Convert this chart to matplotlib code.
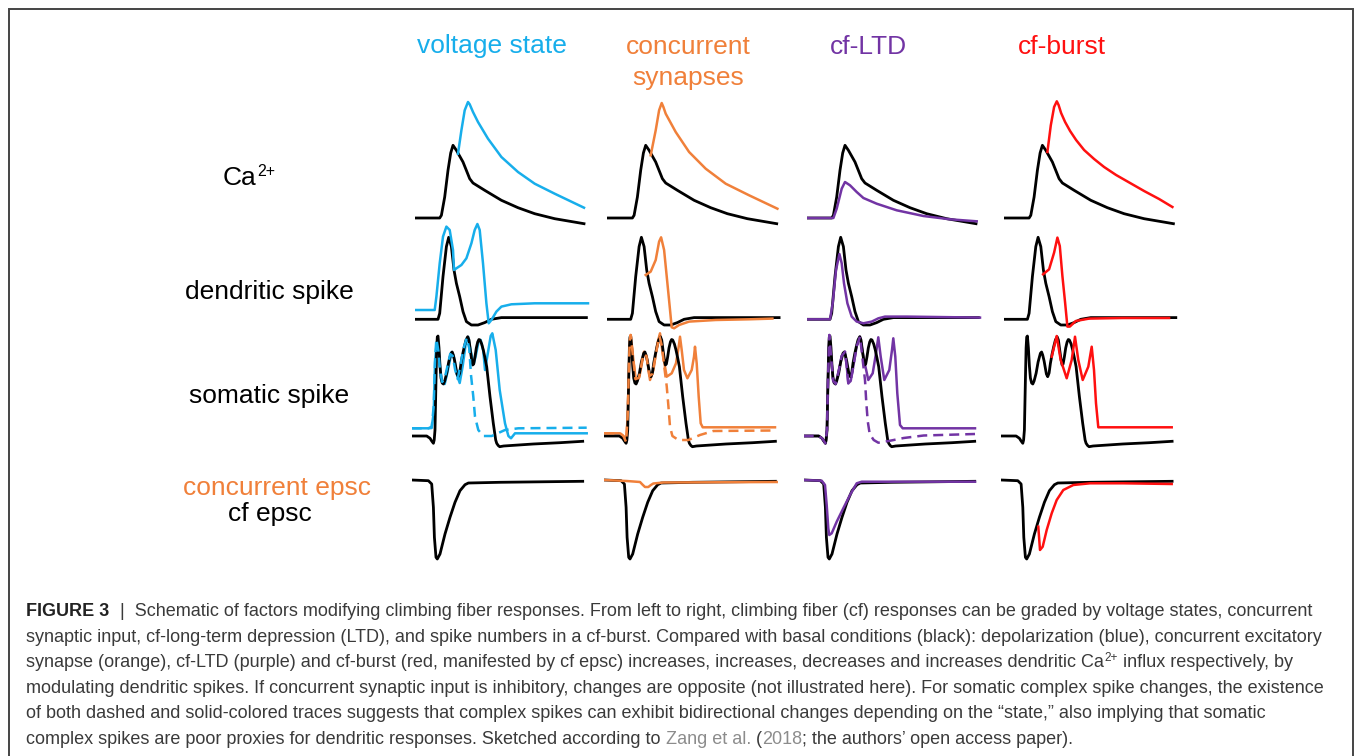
#import necessary libraries
import matplotlib.pyplot as plt

#fonts: helvetica-like text
plt.rcParams['font.family'] = ['Liberation Sans', 'DejaVu Sans']

#colours of the four conditions
blue = '#17AEEB'
orange = '#F0803A'
purple = '#7234A4'
red = '#FF1010'

#column titles and row labels
col_titles = ['voltage state', 'concurrent\nsynapses', 'cf-LTD', 'cf-burst']
col_colors = [blue, orange, purple, red]
row_labels = ['Ca', 'dendritic spike', 'somatic spike', 'cf epsc']

#traces: t = time (px from trace start), v = amplitude (px above baseline)
#Ca2+ row
ca_black_t = [0, 25, 26.7, 30, 33.3, 36, 38.3, 41.7, 48.3, 55, 58.3, 70, 86.7, 103.3, 120, 140, 169.3]
ca_black_v = [0, 0, 2.7, 21, 47.7, 65, 72.7, 67.7, 56, 39.3, 35, 27.7, 17.7, 10.3, 4.3, -0.7, -5.7]
ca_blue_t = [43.3, 46.7, 50, 53.3, 55, 58.3, 63.3, 73.3, 86.7, 103.3, 120, 140, 169.3]
ca_blue_v = [64.3, 87.7, 107.7, 116, 113.7, 106, 96, 79.3, 61, 46, 34.3, 24.3, 10.3]
ca_orange_t = [43.3, 48.3, 51.7, 54.3, 56, 58.3, 68.3, 81.7, 98.3, 118.3, 141.7, 170]
ca_orange_v = [62.7, 87.7, 107.7, 115, 111, 104.3, 86, 66, 49.3, 34.3, 22.7, 9.3]
ca_purple_t = [0, 26.7, 30, 35, 38.3, 43.3, 50, 56.7, 70, 90, 116.7, 143.3, 170]
ca_purple_v = [0, 0, 9.3, 29.3, 36, 32.7, 26, 20, 14.3, 7.7, 2, -1.3, -3.3]
ca_red_t = [43.3, 46.7, 50, 52.7, 54.5, 57, 61, 66, 72, 80, 90, 100, 112, 126, 140, 155, 168.3]
ca_red_v = [66, 92.7, 111, 116.7, 113, 105, 96, 87, 78, 68, 59, 51, 43, 35, 27, 19, 11]

#dendritic spike row
dend_black_t = [0, 23.3, 25, 28.3, 31.7, 34, 36.7, 39.3, 41.7, 45, 48.3, 51.7, 56.7, 63.3, 70, 76.7, 86.7, 120, 171.7]
dend_black_v = [0, 0, 6, 42.7, 72.7, 82, 72.7, 49.3, 36, 22.7, 7.7, -2.3, -5.7, -5.7, -3.3, 0, 1.7, 1.7, 1.7]
dend_blue_t = [0, 20, 21.7, 25, 28.3, 31.7, 35, 38.3, 39.3, 41.7, 46.7, 51.7, 56.7, 60, 62.7, 65, 68.3,
               71.7, 74, 76.7, 81.7, 86.7, 96.7, 120, 173.3]
dend_blue_v = [9.3, 9.3, 22.7, 56, 82.7, 92.7, 89.3, 69.3, 49.3, 51, 54.3, 61, 76, 89.3, 95.3, 89.3, 56,
               16, -4, -0.7, 7.7, 12.7, 15, 16, 16]
dend_orange_t = [38.3, 43.3, 48.3, 51.7, 53.7, 56.7, 60, 62.3, 64.3, 66.7, 71.7, 81.7, 108.3, 141.7, 165]
dend_orange_v = [44.3, 47.7, 59.3, 77.7, 82, 69.3, 36, 12.7, -8, -9, -5.7, -2.3, -0.7, 0, 0.7]
dend_purple_t = [0, 23.3, 26, 29.3, 32.7, 35, 37.3, 40.7, 45, 50, 56.7, 65, 71.7, 78.3, 100, 173.3]
dend_purple_v = [0, 0, 16, 49.3, 65.3, 56, 36, 16, 2.7, -2.3, -4, -2.3, 1, 2.7, 2.7, 1.7]
dend_red_t = [39, 45, 50, 53.3, 55.7, 58.3, 61, 63.3, 65.7, 71.7, 85, 118.3, 165]
dend_red_v = [45, 50, 66.7, 81.7, 73.3, 43.3, 16.7, -7.3, -7.3, -1.7, 0.7, 1.3, 1.3]

#somatic spike row
soma_black_t = [0, 15, 18.3, 20, 21.7, 22.5, 23.3, 24.3, 25, 25.6, 26.3, 27.3, 28.3, 29.3, 30.5, 31.7, 33,
                35, 37, 39.3, 40.5, 41.6, 43, 44, 45.3, 46.6, 48, 49.3, 51, 52.6, 54.3, 56, 57.3, 58.6,
                60, 61, 62, 63.3, 64.6, 66, 67.2, 68.3, 70, 71.6, 73.3, 75, 78.3, 81.6, 84, 85, 86.5,
                88, 92, 121.6, 148.3, 171]
soma_black_v = [0, 0, -2.3, -5, -7.3, -4, 6, 56, 88, 99, 100, 88, 70, 58, 53, 52, 55,
                62.7, 74, 82.7, 84, 81, 75, 69.3, 62, 59.3, 63, 72.7, 82, 89.3, 96, 99.3, 96, 86,
                76, 71, 72, 79.3, 88, 94, 96.5, 96, 92, 86, 78, 69.3, 39.3, 12.7, -4, -7.3, -9.5,
                -10.7, -10, -8, -6.7, -5.3]
soma_blue_t = [0, 16.7, 20, 22, 23.3, 25, 26.7, 28.3, 30, 33, 36, 40, 42, 45, 48, 51, 54, 56.5, 59, 62,
               64, 67, 69, 71.6, 73.3, 76.5, 79, 80.6, 84, 88, 93.3, 96.7, 99.3, 103.3, 110, 175]
soma_blue_v = [7.7, 7.7, 9.3, 23, 73, 94, 90, 70, 55, 52, 65, 84, 80, 62, 53, 70, 92, 99, 85, 72,
               80, 95, 96, 85, 66, 85, 100, 102.7, 86, 46, 12.7, 0, -2.3, 2.7, 2.7, 2.7]
soma_blue_dash_t = [0, 16.7, 20, 22, 23.5, 24.7, 26.7, 28.3, 30.5, 34, 38.5, 41, 43.5, 46, 48.5, 52, 55,
                    57.5, 59.3, 61.6, 63.3, 66.6, 71.6, 80, 93.3, 106.6, 175]
soma_blue_dash_v = [7.7, 7.7, 8, 30, 80, 97, 85, 65, 54, 62, 82, 80, 66, 57, 70, 88, 98,
                    88, 61, 39.3, 19.3, 6, 0, 0, 6, 7.7, 8.3]
soma_orange_t = [0, 15.6, 19, 21.7, 23.3, 24.3, 25.3, 26.3, 29, 31.6, 35, 39.6, 42.3, 45.6, 49, 53, 55.6,
                 58.3, 62.3, 67.3, 71.6, 74.3, 75.6, 77.3, 79.6, 83, 87.3, 89.6, 90.6, 92.3, 94.3, 96.3,
                 98.3, 170.6]
soma_orange_v = [2.7, 2.7, 0, -6, 20, 60, 95, 101, 76, 54.3, 59.3, 84.3, 79.3, 56, 66, 92.7, 102.7,
                 82.7, 59.3, 62.7, 72.7, 89.3, 99.3, 86, 66, 57.7, 66, 79.3, 89.3, 72.7, 39.3, 12.7,
                 8.7, 8.7]
soma_orange_dash_t = [0, 15.6, 19, 21.7, 23.3, 24.3, 25.3, 26.3, 28.5, 31, 34.5, 39, 42, 45, 48, 52, 55,
                      57.5, 60, 62.3, 64, 65.6, 68, 74, 84, 95.6, 108.9, 170.6]
soma_orange_dash_v = [2.7, 2.7, 0, -6, 20, 60, 95, 101, 80, 57, 58, 82, 80, 60, 62, 85, 100,
                      90, 68, 50, 30, 9.3, 0, -4, -4, 1, 5, 5.5]
soma_purple_t = [0, 15, 18.3, 21.7, 23.3, 24.3, 25.6, 27.5, 29.5, 32, 35, 38, 41.3, 43, 44.6, 47, 50, 53,
                 56.3, 60.3, 64.6, 69, 72.3, 74.6, 77, 80.6, 85.6, 88.3, 89.6, 91.6, 93.6, 96.3, 99, 171.3]
soma_purple_v = [0, 0, -2.3, -7.3, 6, 56, 101, 78, 55, 52, 65, 80, 84.3, 70, 52.7, 55, 72, 90,
                 99.3, 76, 56, 62.7, 82.7, 98.7, 79.3, 56, 66, 86, 97.7, 79.3, 42.7, 11, 7.7, 7.7]
soma_purple_dash_t = [0, 15, 18.3, 21.7, 23.3, 24.3, 25.6, 27.5, 29.5, 32, 35, 38, 41.3, 43, 44.6, 47, 50,
                      53, 56.3, 58.5, 61.3, 62.5, 64, 66, 70, 74.6, 85, 100, 120, 171.3]
soma_purple_dash_v = [0, 0, -2.3, -7.3, 6, 56, 101, 78, 55, 52, 65, 80, 84.3, 70, 52.7, 55, 72,
                      90, 99.3, 80, 56, 35, 15, 2, -4, -6.7, -5, -2, 0.5, 2]
soma_red_t = [50.6, 55.6, 59.6, 65.6, 70.6, 73.9, 77.2, 81.6, 87.2, 90.6, 92.9, 94.9, 97.2, 170.6]
soma_red_v = [79.3, 100, 76, 57.7, 76, 99.3, 76, 56, 69.3, 89.3, 66, 32.7, 8.7, 8.7]

#epsc row
epsc_black_t = [0, 16.7, 20, 21.7, 22.7, 24.3, 25.6, 28.3, 33.3, 38.3, 43.3, 48.3, 53.3, 56.7, 88.3, 171]
epsc_black_v = [0, -0.7, -4, -27.3, -57.3, -77.3, -79, -74, -54, -37.3, -22.3, -10.7, -4.7, -3, -2.3, -1.3]
epsc_orange_t = [0, 22.3, 35.6, 38, 40.6, 43.9, 46.5, 48.9, 58.9, 172.3]
epsc_orange_v = [0, -1, -2, -4.5, -7, -7, -5, -3.5, -2.5, -2]
epsc_purple_t = [0, 18, 21.3, 23, 24.6, 25.6, 28, 33, 39.6, 46.3, 53, 58, 171.3]
epsc_purple_v = [0, -0.7, -5, -25, -48.3, -55, -53.3, -41.7, -28.3, -15, -3.3, -1.7, -1.7]
epsc_red_t = [37.2, 38.9, 41.6, 45.6, 50.6, 55.6, 62.2, 72.2, 88.9, 122.2, 170.6]
epsc_red_v = [-46.7, -70, -66.7, -50, -33.3, -20, -10, -5, -3.3, -3.3, -4]

#caption lines: pieces of (text, colour, weight, superscript?)
txt = '#3a3a3a'
link = '#8c8c8c'
caption_lines = [
    [('FIGURE 3', '#222222', 'bold', False),
     ('  |  Schematic of factors modifying climbing fiber responses. From left to right, climbing fiber (cf) '
      'responses can be graded by voltage states, concurrent', txt, 'normal', False)],
    [('synaptic input, cf-long-term depression (LTD), and spike numbers in a cf-burst. Compared with basal '
      'conditions (black): depolarization (blue), concurrent excitatory', txt, 'normal', False)],
    [('synapse (orange), cf-LTD (purple) and cf-burst (red, manifested by cf epsc) increases, increases, '
      'decreases and increases dendritic Ca', txt, 'normal', False),
     ('2+', txt, 'normal', True),
     (' influx respectively, by', txt, 'normal', False)],
    [('modulating dendritic spikes. If concurrent synaptic input is inhibitory, changes are opposite (not '
      'illustrated here). For somatic complex spike changes, the existence', txt, 'normal', False)],
    [('of both dashed and solid-colored traces suggests that complex spikes can exhibit bidirectional '
      'changes depending on the \u201cstate,\u201d also implying that somatic', txt, 'normal', False)],
    [('complex spikes are poor proxies for dendritic responses. Sketched according to ', txt, 'normal', False),
     ('Zang et al.', link, 'normal', False), (' (', txt, 'normal', False), ('2018', link, 'normal', False),
     ('; the authors\u2019 open access paper).', txt, 'normal', False)],
]

#layout (pixels)
W, H = 1355, 756
col_x = [411.7, 604.4, 803.7, 1001.1]
row_dx = [3, 3, 0, 0]
row_base = [218, 319.3, 436, 480]
row_span = [(15, 125), (20, 110), (20, 115), (90, 15)]
lw = 1.8
dash = (0, (4, 2.4))

#determine the size of figure
fig = plt.figure(figsize=(W / 100, H / 100), dpi=100)
fig.patch.set_facecolor('white')

#background axes in pixel units for the frame and the text
bg = fig.add_axes([0, 0, 1, 1])
bg.set_xlim(0, W)
bg.set_ylim(H, 0)
bg.axis('off')


def panel(row, col):
    #one small axes per trace panel, 1 data unit = 1 pixel
    x0 = col_x[col] + row_dx[row]
    lo, hi = row_span[row]
    ax = fig.add_axes([x0 / W, (H - row_base[row] - lo) / H, 180 / W, (lo + hi) / H])
    ax.set_xlim(0, 180)
    ax.set_ylim(-lo, hi)
    ax.axis('off')
    ax.patch.set_alpha(0)
    return ax


#Ca2+ row
ca_colored = [(ca_blue_t, ca_blue_v), (ca_orange_t, ca_orange_v), (ca_purple_t, ca_purple_v), (ca_red_t, ca_red_v)]
for c in range(4):
    ax = panel(0, c)
    ax.plot(ca_black_t, ca_black_v, color='black', lw=lw + 0.2)
    ax.plot(ca_colored[c][0], ca_colored[c][1], color=col_colors[c], lw=lw)

#dendritic spike row
dend_colored = [(dend_blue_t, dend_blue_v), (dend_orange_t, dend_orange_v),
                (dend_purple_t, dend_purple_v), (dend_red_t, dend_red_v)]
for c in range(4):
    ax = panel(1, c)
    ax.plot(dend_black_t, dend_black_v, color='black', lw=lw + 0.2)
    ax.plot(dend_colored[c][0], dend_colored[c][1], color=col_colors[c], lw=lw)

#somatic spike row: solid coloured under black, dashed on top
soma_solid = [(soma_blue_t, soma_blue_v), (soma_orange_t, soma_orange_v), (soma_purple_t, soma_purple_v)]
soma_dashed = [(soma_blue_dash_t, soma_blue_dash_v), (soma_orange_dash_t, soma_orange_dash_v),
               (soma_purple_dash_t, soma_purple_dash_v)]
for c in range(4):
    ax = panel(2, c)
    if c < 3:
        ax.plot(soma_solid[c][0], soma_solid[c][1], color=col_colors[c], lw=lw)
        ax.plot(soma_black_t, soma_black_v, color='black', lw=lw + 0.2)
        ax.plot(soma_dashed[c][0], soma_dashed[c][1], color=col_colors[c], lw=lw, linestyle=dash)
    else:
        ax.plot(soma_black_t, soma_black_v, color='black', lw=lw + 0.2)
        ax.plot(soma_red_t, soma_red_v, color=red, lw=lw)

#epsc row
epsc_colored = [None, (epsc_orange_t, epsc_orange_v), (epsc_purple_t, epsc_purple_v), (epsc_red_t, epsc_red_v)]
for c in range(4):
    ax = panel(3, c)
    ax.plot(epsc_black_t, epsc_black_v, color='black', lw=lw + 0.2)
    if epsc_colored[c] is not None:
        ax.plot(epsc_colored[c][0], epsc_colored[c][1], color=col_colors[c], lw=lw)

#frame round the figure (bottom edge is cut off in the original)
bg.plot([9, 9, 1353, 1353], [H, 9, 9, H], color='#444444', lw=1.4, solid_joinstyle='miter')

renderer = fig.canvas.get_renderer()

#column titles
title_x = [492, 688.5, 868.5, 1061.5]
for c in range(4):
    lines = col_titles[c].split('\n')
    for i, s in enumerate(lines):
        bg.text(title_x[c], 53.5 + 32 * i, s, color=col_colors[c], fontsize=19, ha='center', va='baseline')

#row labels, Ca with its 2+ superscript
t = bg.text(223, 185, row_labels[0], fontsize=19, ha='left', va='baseline')
bg.text(223 + t.get_window_extent(renderer=renderer).width + 0.5, 176, '2+', fontsize=11.5,
        ha='left', va='baseline')
bg.text(269, 298.5, row_labels[1], fontsize=19, ha='center', va='baseline')
bg.text(269, 403.5, row_labels[2], fontsize=19, ha='center', va='baseline')
bg.text(277, 495, 'concurrent epsc', color=orange, fontsize=19, ha='center', va='baseline')
bg.text(269.5, 521.5, row_labels[3], fontsize=19, ha='center', va='baseline')

#caption, written piece by piece so colours and weights can change inside a line
cap_size = 13
for i, pieces in enumerate(caption_lines):
    x = 26.5
    y = 616 + 25.6 * i
    for s, colr, wt, sup in pieces:
        if sup:
            t = bg.text(x + 0.5, y - 6.5, s, color=colr, fontsize=cap_size * 0.65, fontweight=wt,
                        ha='left', va='baseline')
        else:
            t = bg.text(x, y, s, color=colr, fontsize=cap_size, fontweight=wt, ha='left', va='baseline')
        x += t.get_window_extent(renderer=renderer).width

#save the figure
fig.savefig('out.png', dpi=100, facecolor='white')
